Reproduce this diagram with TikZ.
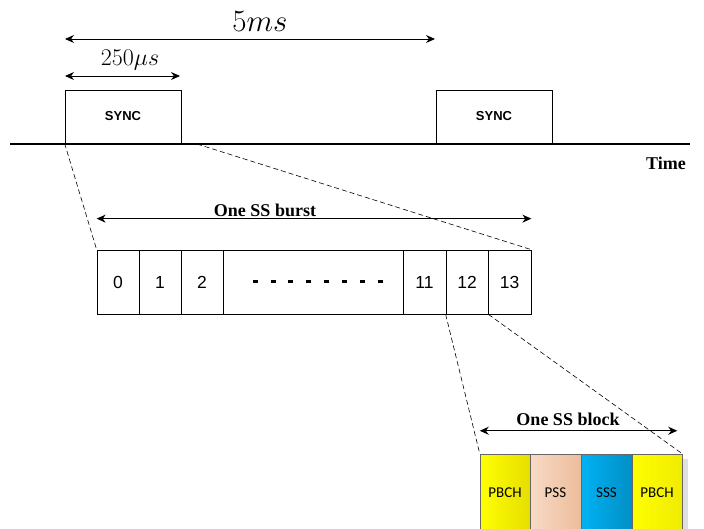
\RequirePackage{fix-cm}
\documentclass[tikz,border=0pt]{standalone}
\usepackage{fontspec}
\usetikzlibrary{arrows.meta}
\newfontfamily\arialfont{Liberation Sans}
\newfontfamily\timesfont{Liberation Serif}
\newfontfamily\calibrifont{Carlito}

\definecolor{pbchL}{HTML}{FFFF00}
\definecolor{pbchR}{HTML}{E6DE00}
\definecolor{pssL}{HTML}{F8DAC6}
\definecolor{pssR}{HTML}{EDBD9B}
\definecolor{sssL}{HTML}{00B2F2}
\definecolor{sssR}{HTML}{008FC6}

\tikzset{
  dimarrow/.style={{Stealth[length=9pt,width=8pt]}-{Stealth[length=9pt,width=8pt]}, line width=0.9pt},
  syncbox/.style={draw, line width=0.8pt, minimum width=116pt, minimum height=53pt, inner sep=0pt,
    font=\arialfont\bfseries\fontsize{13}{15}\selectfont},
  cellbox/.style={draw, line width=0.7pt, minimum height=64pt, inner sep=0pt,
    font=\arialfont\fontsize{17.5}{19}\selectfont},
  ssbox/.style={draw=black!60, line width=0.5pt, minimum height=78pt, inner sep=0pt,
    font=\calibrifont\fontsize{15}{17}\selectfont},
  zoomline/.style={line width=0.6pt, dash pattern=on 5pt off 3pt},
  lbl/.style={font=\timesfont\bfseries\fontsize{18}{20}\selectfont, inner sep=1pt},
}

\begin{document}
\begin{tikzpicture}[x=1pt,y=-1pt]
    \clip (0,0) rectangle (704,529);

    % Time line and sync bursts
    \draw[line width=1.8pt] (10,144) -- (690,144);
    \node[lbl] (time) at (666,163) {Time};
    \node[syncbox] (sync1) at (123,116.5) {SYNC};
    \node[syncbox] (sync2) at (494,116.5) {SYNC};

    % Periods
    \coordinate (p0) at (65,39);
    \coordinate (p1) at (435,39);
    \draw[dimarrow] (p0) -- (p1);
    \node[anchor=base, font=\fontsize{31}{33}\selectfont] (period) at (260,32) {$5ms$};
    \coordinate (q0) at (65,76);
    \coordinate (q1) at (180,76);
    \draw[dimarrow] (q0) -- (q1);
    \node[anchor=base, font=\fontsize{24}{26}\selectfont] (dur) at (130,66) {$250\mu s$};

    % One SS burst
    \foreach \n/\a/\b/\t in {c0/97/139/0, c1/139/181/1, c2/181/223/2, cdots/223/403/,
                             c11/403/446/11, c12/446/488/12, c13/488/531/13} {
        \node[cellbox, minimum width={\b pt-\a pt}] (\n) at ({(\a+\b)/2},282) {\t};
    }
    \draw[line width=3pt, dash pattern=on 5pt off 12.86pt]
        ([xshift=30pt]cdots.west) -- ([xshift=-20pt]cdots.east);
    \draw[dimarrow] ([yshift=31pt]c0.north west) -- ([yshift=31pt]c13.north east);
    \node[lbl] (burst) at (265,210) {One SS burst};

    % Zoom lines to the burst
    \coordinate (s1) at (197,144);
    \draw[zoomline] (sync1.south west) -- (c0.north west);
    \draw[zoomline] (s1) -- (c13.north east);

    % One SS block
    \fill[black!12] (682,459) rectangle (688,535);
    \node[ssbox, minimum width=50pt, left color=pbchL, right color=pbchR] (pb1) at (505,493) {PBCH};
    \node[ssbox, minimum width=51pt, left color=pssL, right color=pssR] (pss) at (555.5,493) {PSS};
    \node[ssbox, minimum width=51pt, left color=sssL, right color=sssR] (sss) at (606.5,493) {SSS};
    \node[ssbox, minimum width=50pt, left color=pbchL, right color=pbchR!60!pbchL] (pb2) at (657,493) {PBCH};
    \draw[dimarrow] ([yshift=23pt]pb1.north west) -- ([xshift=-5pt,yshift=23pt]pb2.north east);
    \node[lbl] (block) at (568,419) {One SS block};

    % Zoom lines to the block
    \draw[zoomline] (c12.south west) -- (pb1.north west);
    \draw[zoomline] (c12.south east) -- (pb2.north east);
\end{tikzpicture}
\end{document}
